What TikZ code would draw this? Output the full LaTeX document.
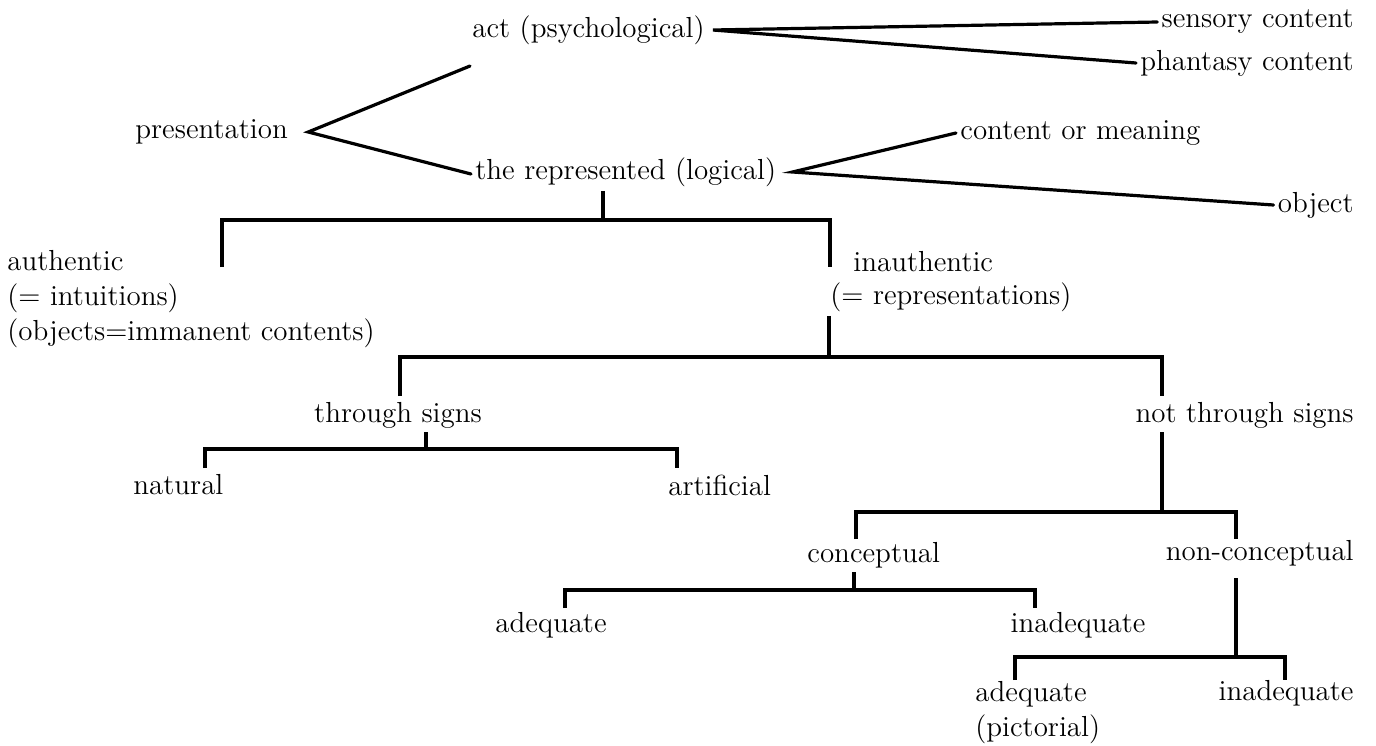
\documentclass[tikz,border=0pt]{standalone}
\usetikzlibrary{positioning}

\begin{document}
\begin{tikzpicture}[
                x=0.5pt, y=-0.5pt,
                every node/.style={font=\fontsize{14.5}{17.5}\selectfont, inner sep=2pt},
                term/.style={anchor=west},
                termr/.style={anchor=east},
                multi/.style={anchor=north west, align=left},
                fork/.style={draw, line width=1.6pt, line cap=round},
                branch/.style={draw, line width=1.8pt},
                ]
                \useasboundingbox (0,0) rectangle (1376,745);

                % Top: presentation and its two sides
                \node [term] (pres) at (131,132) {presentation};
                \node [term] (act) at (468,30) {act (psychological)};
                \node [term] (repr) at (471,172) {the represented (logical)};
                \node [termr] (sens) at (1358,22) {sensory content};
                \node [termr] (phan) at (1358,63) {phantasy content};
                \node [term] (mean) at (956,133) {content or meaning};
                \node [termr] (obj) at (1358,205) {object};

                \coordinate (presV) at ([xshift=8pt]pres.east);
                \coordinate (presU) at (470,66);
                \coordinate (presL) at ([yshift=-1pt]repr.west);
                \draw[fork] (presU) -- (presV) -- (presL);
                \draw[fork] (sens.west) -- ([xshift=2pt]act.east) -- (phan.west);
                \draw[fork] (mean.west) -- ([xshift=6pt]repr.east) -- (obj.west);

                % Authentic / inauthentic
                \node [multi] (auth) at (3,246) {authentic\\(= intuitions)\\(objects=immanent contents)};
                \node [term] (inau) at (849,262) {inauthentic};
                \node [term] (inrep) at (826,297) {(= representations)};

                \coordinate (j1) at (603,220);
                \coordinate (l1) at (222,267);
                \coordinate (r1) at (830,267);
                \draw[branch] (repr.south -| j1) -- (j1);
                \draw[branch] (l1) |- (j1) -| (r1);

                % Through signs / not through signs
                \node (thru) at (398,415) {through signs};
                \node [termr] (nthru) at (1358,415) {not through signs};

                \coordinate (j2) at (829,357);
                \coordinate (l2) at (400,396);
                \coordinate (r2) at (1162,396);
                \draw[branch] (inrep.south -| j2) -- (j2);
                \draw[branch] (l2) |- (j2) -| (r2);

                % Natural / artificial
                \node [term] (nat) at (129,485) {natural};
                \node [term] (art) at (664,485) {artificial};

                \coordinate (j3) at (426,449);
                \coordinate (l3) at (205,468);
                \coordinate (r3) at (677,468);
                \draw[branch] (thru.south -| j3) -- (j3);
                \draw[branch] (l3) |- (j3) -| (r3);

                % Conceptual / non-conceptual
                \node [term] (conc) at (803,555) {conceptual};
                \node [termr] (ncon) at (1358,553) {non-conceptual};

                \coordinate (j4) at (1162,512);
                \coordinate (l4) at (856,539);
                \coordinate (r4) at (1236,539);
                \draw[branch] (nthru.south -| j4) -- (j4);
                \draw[branch] (l4) |- (j4) -| (r4);

                % Adequate / inadequate (conceptual)
                \node [term] (cadq) at (491,625) {adequate};
                \node [termr] (cinadq) at (1150,625) {inadequate};

                \coordinate (j5) at (854,590);
                \coordinate (l5) at (565,608);
                \coordinate (r5) at (1035,608);
                \draw[branch] (conc.south -| j5) -- (j5);
                \draw[branch] (l5) |- (j5) -| (r5);

                % Adequate / inadequate (non-conceptual)
                \node [multi] (nadq) at (971,677) {adequate\\(pictorial)};
                \node [termr] (ninadq) at (1358,693) {inadequate};

                \coordinate (j6) at (1236,657);
                \coordinate (l6) at (1015,680);
                \coordinate (r6) at (1285,680);
                \draw[branch] ([yshift=-4pt]ncon.south -| j6) -- (j6);
                \draw[branch] (l6) |- (j6) -| (r6);

            \end{tikzpicture}
\end{document}
